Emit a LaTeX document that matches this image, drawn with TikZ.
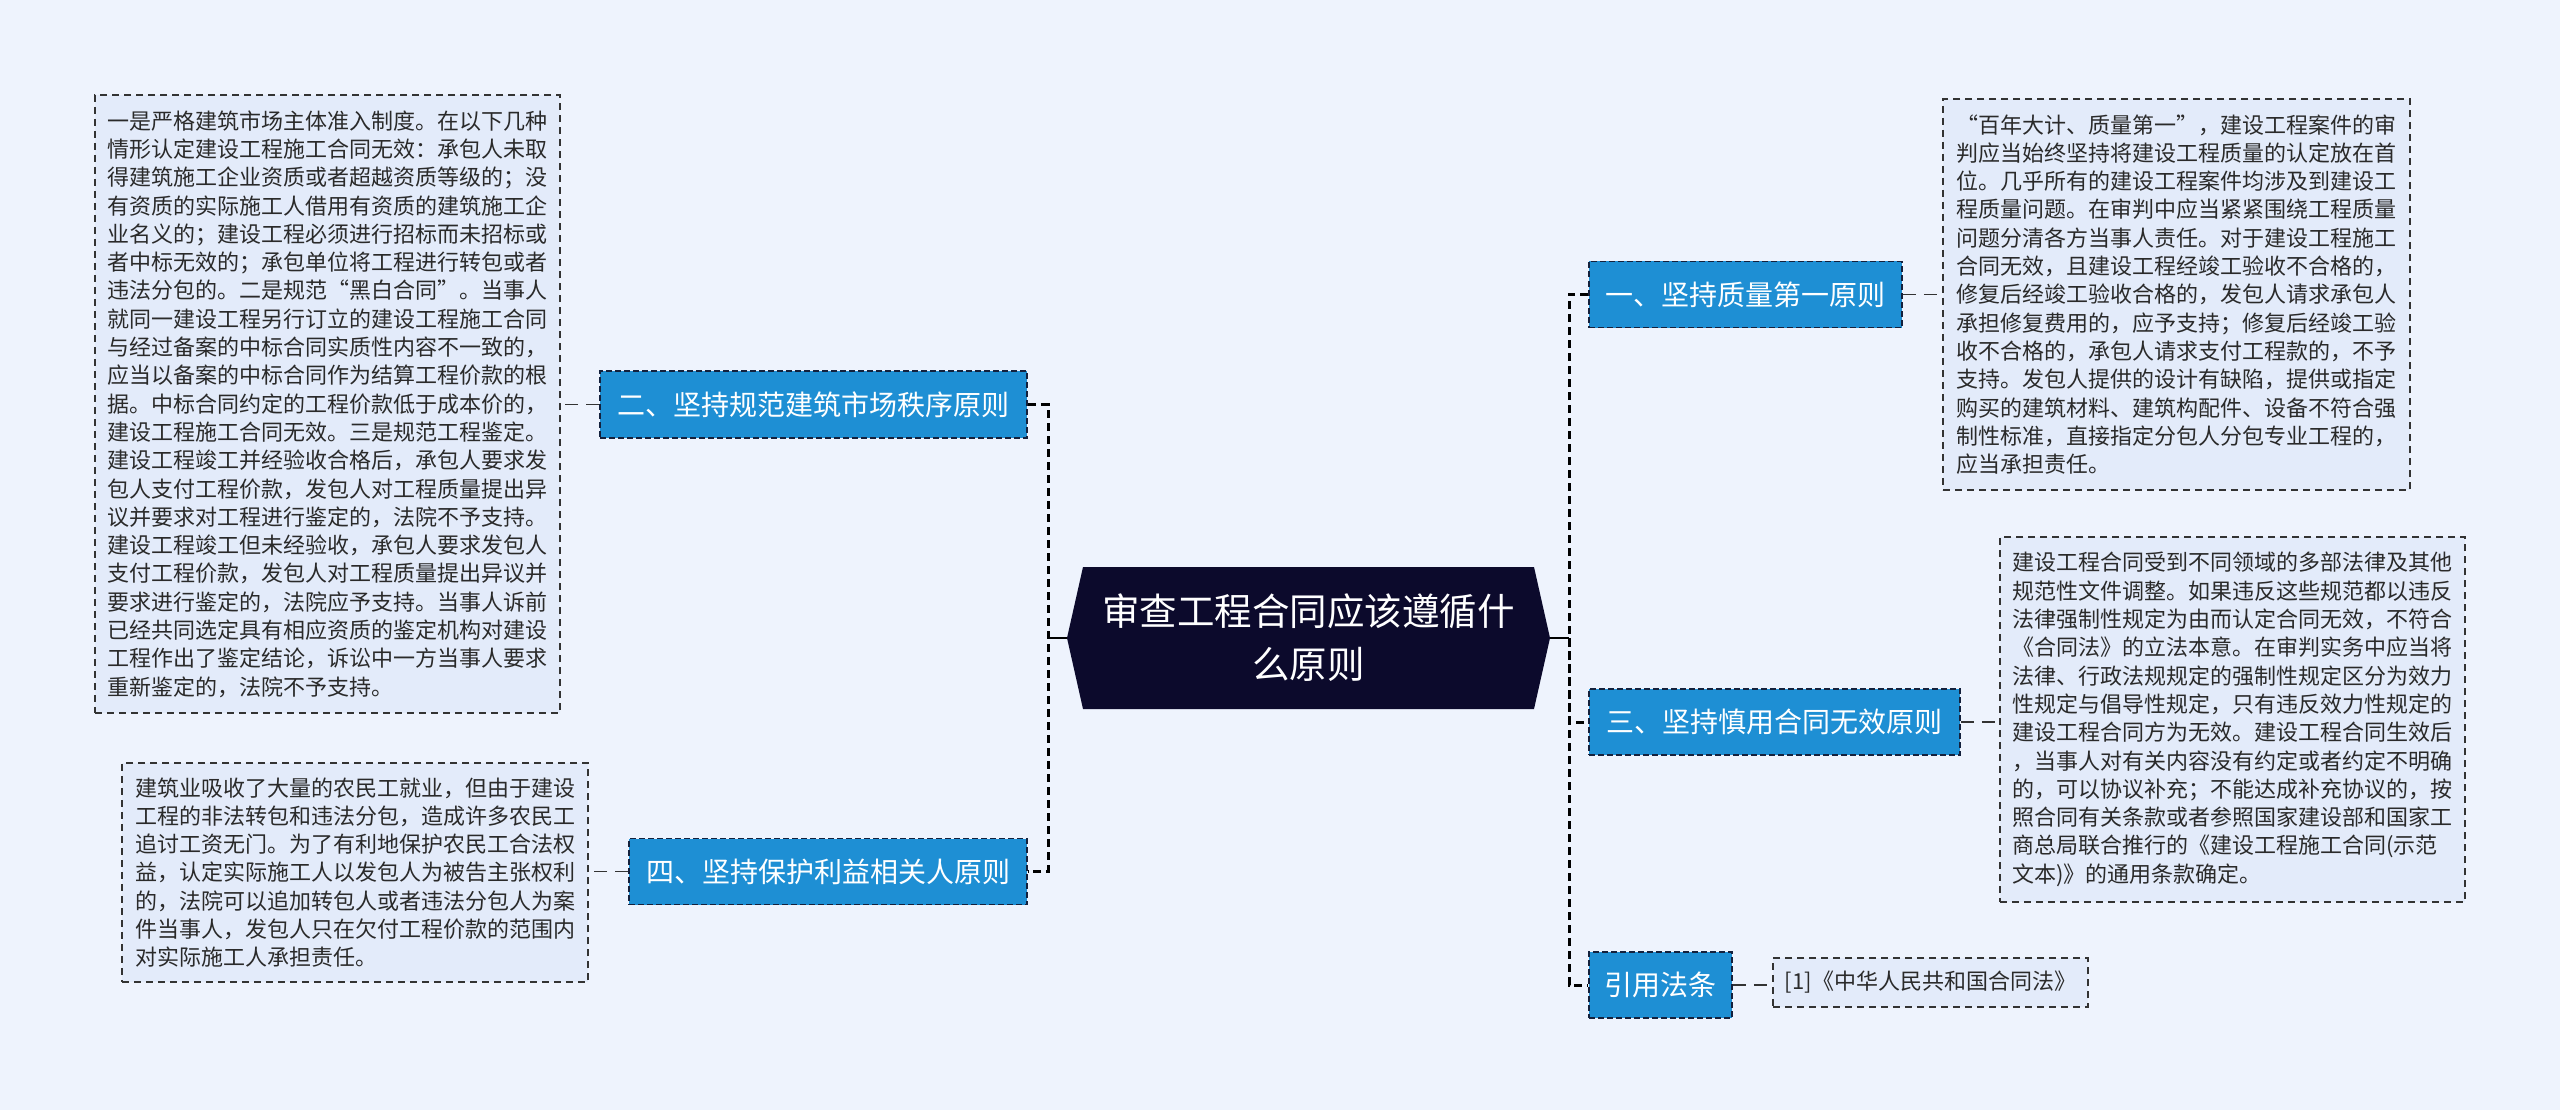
\documentclass[tikz,border=0pt]{standalone}
\usepackage{fontspec}
\setmainfont{Noto Sans CJK SC}
\newfontfamily\fwq[RawFeature=+fwid]{Noto Sans CJK SC}
\definecolor{bg}{HTML}{EEF3FD}
\definecolor{boxfill}{HTML}{E3EBFA}
\definecolor{boxline}{HTML}{333333}
\definecolor{txt}{HTML}{2A2A2A}
\definecolor{bluenode}{HTML}{1E8FD4}
\definecolor{navy}{HTML}{14213D}
\definecolor{hexfill}{HTML}{0C0A2C}
\begin{document}
\begin{tikzpicture}[x=1pt,y=-1pt,
  textbox/.style={draw=boxline, fill=boxfill, line width=1.4pt, dash pattern=on 7pt off 5pt,
    text=txt, align=left, inner sep=0pt, font=\fontsize{22}{28.3}\selectfont},
  branch/.style={draw=navy, fill=bluenode, line width=1.6pt, dash pattern=on 6pt off 3pt,
    text=white, inner sep=0pt, font=\fontsize{28}{34}\selectfont},
  trunk/.style={draw=black, line width=3pt, dash pattern=on 8pt off 5pt},
  link/.style={draw=boxline, line width=1.6pt, dash pattern=on 13pt off 8pt},
  solidlink/.style={draw=black, line width=2.5pt}]
\fill[bg] (0,0) rectangle (2560,1110);
\useasboundingbox (0,0) rectangle (2560,1110);

% central node
\node[minimum width=483pt, minimum height=142pt, inner sep=0pt, text=white, align=center,
  font=\fontsize{37.5}{53}\selectfont,
  path picture={\fill[hexfill] (path picture bounding box.west)
    -- ([xshift=16pt]path picture bounding box.north west)
    -- ([xshift=-16pt]path picture bounding box.north east)
    -- (path picture bounding box.east)
    -- ([xshift=-16pt]path picture bounding box.south east)
    -- ([xshift=16pt]path picture bounding box.south west) -- cycle;}]
  (c) at (1308.5,638) {审查工程合同应该遵循什\\么原则};

% branch nodes
\node[branch, minimum width=427, minimum height=67] (n2) at (813.5,404.5) {二、坚持规范建筑市场秩序原则};
\node[branch, minimum width=398, minimum height=66] (n4) at (828,871.5) {四、坚持保护利益相关人原则};
\node[branch, minimum width=313, minimum height=66] (n1) at (1745.5,294.5) {一、坚持质量第一原则};
\node[branch, minimum width=371, minimum height=66] (n3) at (1774.5,722) {三、坚持慎用合同无效原则};
\node[branch, minimum width=143, minimum height=66] (nr) at (1660.5,985) {引用法条};

% text boxes
\node[textbox, minimum width=465, minimum height=618] (b2) at (327.5,404) {一是严格建筑市场主体准入制度。在以下几种\\
情形认定建设工程施工合同无效：承包人未取\\
得建筑施工企业资质或者超越资质等级的；没\\
有资质的实际施工人借用有资质的建筑施工企\\
业名义的；建设工程必须进行招标而未招标或\\
者中标无效的；承包单位将工程进行转包或者\\
违法分包的。二是规范{\fwq “}黑白合同{\fwq ”}。当事人\\
就同一建设工程另行订立的建设工程施工合同\\
与经过备案的中标合同实质性内容不一致的，\\
应当以备案的中标合同作为结算工程价款的根\\
据。中标合同约定的工程价款低于成本价的，\\
建设工程施工合同无效。三是规范工程鉴定。\\
建设工程竣工并经验收合格后，承包人要求发\\
包人支付工程价款，发包人对工程质量提出异\\
议并要求对工程进行鉴定的，法院不予支持。\\
建设工程竣工但未经验收，承包人要求发包人\\
支付工程价款，发包人对工程质量提出异议并\\
要求进行鉴定的，法院应予支持。当事人诉前\\
已经共同选定具有相应资质的鉴定机构对建设\\
工程作出了鉴定结论，诉讼中一方当事人要求\\
重新鉴定的，法院不予支持。};

\node[textbox, minimum width=466, minimum height=219] (b4) at (355,872.5) {建筑业吸收了大量的农民工就业，但由于建设\\
工程的非法转包和违法分包，造成许多农民工\\
追讨工资无门。为了有利地保护农民工合法权\\
益，认定实际施工人以发包人为被告主张权利\\
的，法院可以追加转包人或者违法分包人为案\\
件当事人，发包人只在欠付工程价款的范围内\\
对实际施工人承担责任。};

\node[textbox, minimum width=467, minimum height=391] (b1) at (2176.5,294.5) {{\fwq “}百年大计、质量第一{\fwq ”}，建设工程案件的审\\
判应当始终坚持将建设工程质量的认定放在首\\
位。几乎所有的建设工程案件均涉及到建设工\\
程质量问题。在审判中应当紧紧围绕工程质量\\
问题分清各方当事人责任。对于建设工程施工\\
合同无效，且建设工程经竣工验收不合格的，\\
修复后经竣工验收合格的，发包人请求承包人\\
承担修复费用的，应予支持；修复后经竣工验\\
收不合格的，承包人请求支付工程款的，不予\\
支持。发包人提供的设计有缺陷，提供或指定\\
购买的建筑材料、建筑构配件、设备不符合强\\
制性标准，直接指定分包人分包专业工程的，\\
应当承担责任。};

\node[textbox, minimum width=465, minimum height=365] (b3) at (2232.5,719.5) {建设工程合同受到不同领域的多部法律及其他\\
规范性文件调整。如果违反这些规范都以违反\\
法律强制性规定为由而认定合同无效，不符合\\
《合同法》的立法本意。在审判实务中应当将\\
法律、行政法规规定的强制性规定区分为效力\\
性规定与倡导性规定，只有违反效力性规定的\\
建设工程合同方为无效。建设工程合同生效后\\
，当事人对有关内容没有约定或者约定不明确\\
的，可以协议补充；不能达成补充协议的，按\\
照合同有关条款或者参照国家建设部和国家工\\
商总局联合推行的《建设工程施工合同(示范\\
文本)》的通用条款确定。};

\node[textbox, minimum width=315, minimum height=49] (br) at (1930.5,982.5) {[1]《中华人民共和国合同法》};

% trunks
\coordinate (lc) at (1048,638);
\coordinate (rc) at (1569,638);
\draw[trunk] (n2.east) -| (lc) |- (n4.east);
\draw[trunk] (n1.west) -| (rc) |- (nr.west);
\draw[trunk] (rc) |- (n3.west);
\draw[solidlink] (c.west) -- (lc);
\draw[solidlink] (c.east) -- (rc);

% links to text boxes
\draw[link] (n2.west) -- (n2.west -| b2.east);
\draw[link] (n4.west) -- (n4.west -| b4.east);
\draw[link] (n1.east) -- (n1.east -| b1.west);
\draw[link] (n3.east) -- (n3.east -| b3.west);
\draw[link] (nr.east) -- (nr.east -| br.west);
\end{tikzpicture}
\end{document}
